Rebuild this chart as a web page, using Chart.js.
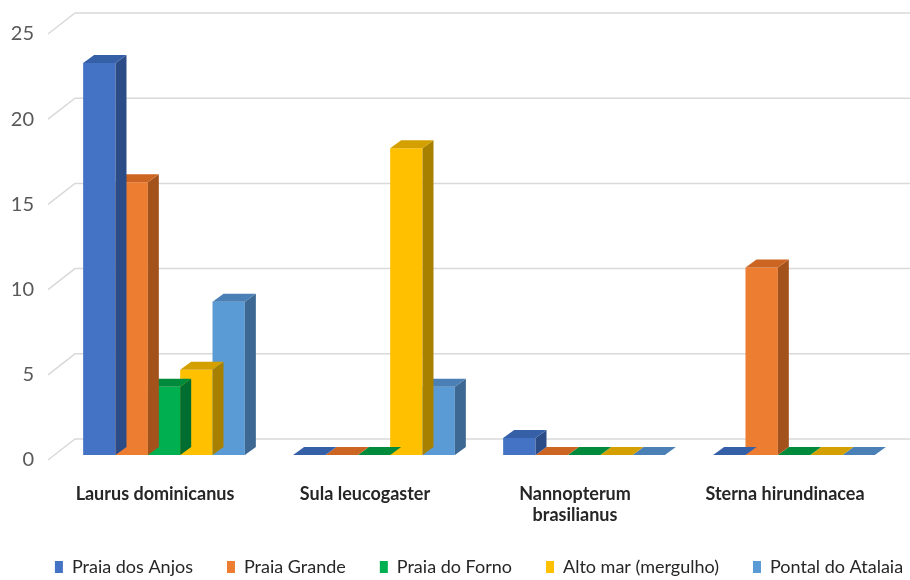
<!DOCTYPE html>
<html>
<head>
<meta charset="utf-8">
<script src="https://cdn.jsdelivr.net/npm/chart.js@4"></script>
<style>
  html, body { margin: 0; padding: 0; background: #fff; }
  #wrap { width: 910px; height: 580px; }
</style>
</head>
<body>
<div id="wrap"><canvas id="myChart"></canvas></div>
<script>
// data
const species = ['Laurus dominicanus', 'Sula leucogaster', ['Nannopterum', 'brasilianus'], 'Sterna hirundinacea'];
const praiaDosAnjos = [23, 0, 1, 0];
const praiaGrande = [16, 0, 0, 11];
const praiaDoForno = [4, 0, 0, 0];
const altoMar = [5, 18, 0, 0];
const pontalDoAtalaia = [9, 4, 0, 0];
const yMax = 25;
const yStep = 5;

// fake 3d depth of the bars
const depthX = 11, depthY = 8;

const mkSet = (label, data, front, top, side) => ({
  label: label,
  data: data,
  backgroundColor: front,
  topColor: top,
  sideColor: side,
  borderWidth: 0,
  barPercentage: 1.0,
  categoryPercentage: 0.77
});

const datasets = [
  mkSet('Praia dos Anjos', praiaDosAnjos, '#4472c4', '#3560a8', '#2c4c88'),
  mkSet('Praia Grande', praiaGrande, '#ed7d31', '#cc6521', '#a4521b'),
  mkSet('Praia do Forno', praiaDoForno, '#00b050', '#008a3c', '#006e30'),
  mkSet('Alto mar (mergulho)', altoMar, '#ffc000', '#d4a000', '#a88000'),
  mkSet('Pontal do Atalaia', pontalDoAtalaia, '#5b9bd5', '#4a80b5', '#3c6893')
];

// one legend row of fixed height, nudged right like the original
const legendFit = {
  id: 'legendFit',
  beforeInit(chart) {
    if (!chart.legend) return;
    const orig = chart.legend.fit;
    chart.legend.fit = function () {
      this.maxWidth = 1200;
      orig.call(this);
      this.height = 56;
    };
  },
  afterLayout(chart) {
    if (!chart.legend) return;
    chart.legend.left = -2;
    chart.legend.right = 960;
  }
};

const bar3d = {
  id: 'bar3d',
  beforeDatasetsDraw(chart) {
    const ctx = chart.ctx;
    const y = chart.scales.y;
    const area = chart.chartArea;
    ctx.save();
    ctx.strokeStyle = '#d9d9d9';
    ctx.lineWidth = 1.5;
    y.ticks.forEach(t => {
      const py = y.getPixelForValue(t.value);
      ctx.beginPath();
      ctx.moveTo(48, py + 5);
      ctx.lineTo(75, py - 16);
      ctx.lineTo(area.right + 11, py - 16);
      ctx.stroke();
    });
    ctx.restore();
  },
  afterDatasetDraw(chart, args) {
    const ctx = chart.ctx;
    const ds = chart.data.datasets[args.index];
    ctx.save();
    args.meta.data.forEach(bar => {
      const p = bar.getProps(['x', 'y', 'base', 'width'], true);
      const l = p.x - p.width / 2, r = p.x + p.width / 2;
      ctx.fillStyle = ds.sideColor;
      ctx.beginPath();
      ctx.moveTo(r, p.y);
      ctx.lineTo(r + depthX, p.y - depthY);
      ctx.lineTo(r + depthX, p.base - depthY);
      ctx.lineTo(r, p.base);
      ctx.closePath();
      ctx.fill();
      ctx.fillStyle = ds.topColor;
      ctx.beginPath();
      ctx.moveTo(l, p.y);
      ctx.lineTo(r, p.y);
      ctx.lineTo(r + depthX, p.y - depthY);
      ctx.lineTo(l + depthX, p.y - depthY);
      ctx.closePath();
      ctx.fill();
    });
    ctx.restore();
  }
};

const ctx = document.getElementById('myChart').getContext('2d');
new Chart(ctx, {
  type: 'bar',
  data: { labels: species, datasets: datasets },
  plugins: [legendFit, bar3d],
  options: {
    responsive: true,
    maintainAspectRatio: false,
    animation: false,
    layout: { padding: { top: 15, right: 11, bottom: 0, left: 0 } },
    plugins: {
      tooltip: { enabled: false },
      legend: {
        position: 'bottom',
        labels: {
          boxWidth: 8,
          boxHeight: 12,
          padding: 34,
          color: '#262626',
          font: { family: 'Lato', size: 18 }
        }
      }
    },
    scales: {
      x: {
        grid: { display: false },
        border: { display: false },
        afterFit(scale) { scale.height = 69; },
        ticks: {
          padding: 20,
          labelOffset: -9,
          maxRotation: 0,
          autoSkip: false,
          color: '#262626',
          font: { family: 'Lato', size: 18, weight: 'bold' }
        }
      },
      y: {
        min: 0,
        max: yMax,
        grid: { display: false },
        border: { display: false },
        afterFit(scale) { scale.width = 59; },
        ticks: {
          stepSize: yStep,
          padding: 17,
          labelOffset: 5,
          color: '#595959',
          font: { family: 'Lato', size: 20 }
        }
      }
    }
  }
});
</script>
</body>
</html>
